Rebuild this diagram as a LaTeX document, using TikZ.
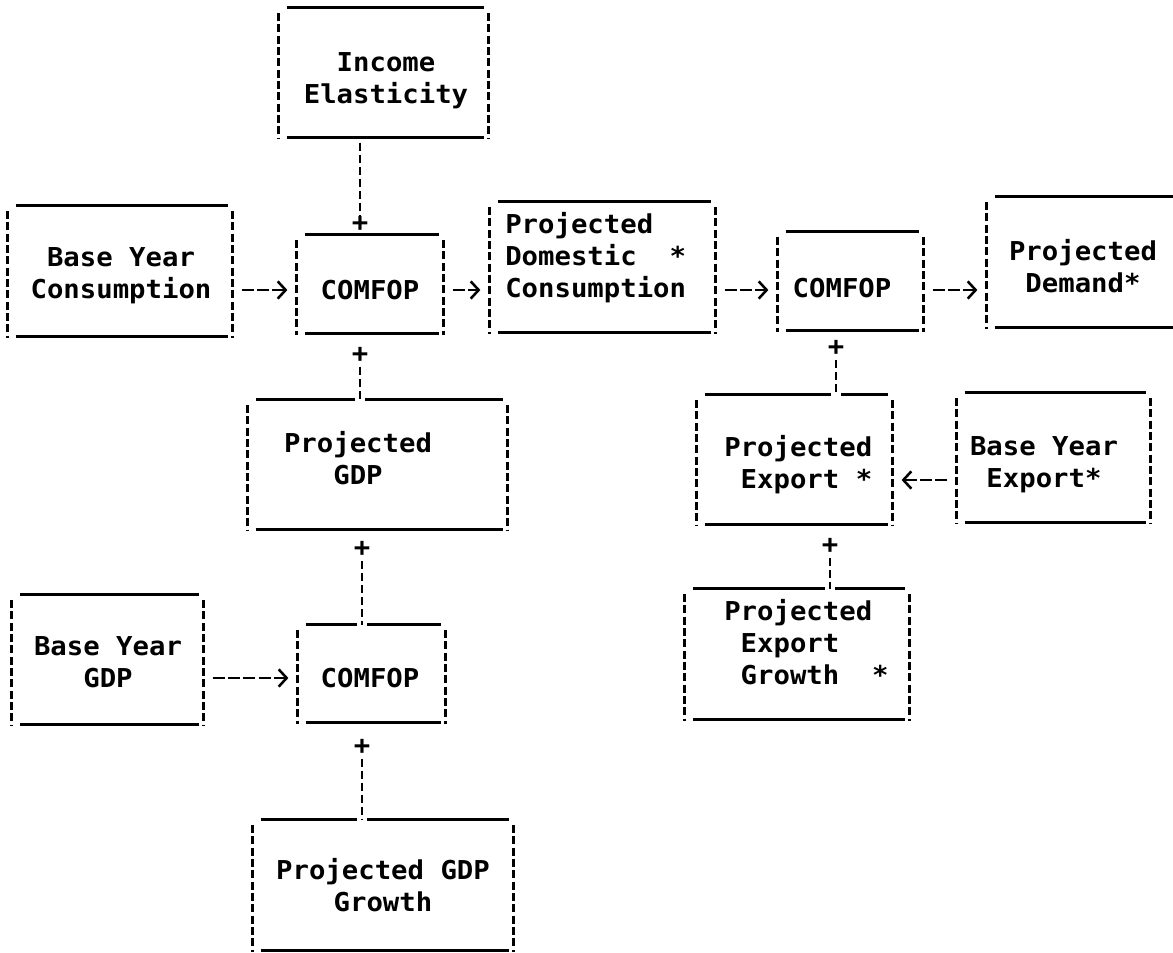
\documentclass[tikz,border=0pt]{standalone}
\usepackage{fontspec}
\newfontfamily\plotfont{DejaVu Sans Mono}[FakeStretch=1.05]
\usetikzlibrary{arrows.meta}
\tikzset{
  x=0.75pt, y=-0.75pt,
  box/.style n args={2}{draw=none, inner sep=0pt, rectangle,
    minimum width=#1*0.75pt, minimum height=#2*0.75pt},
  txt/.style={inner sep=0pt, font=\plotfont\bfseries\fontsize{19.5}{24}\selectfont, align=center},
  ltxt/.style={txt, align=left, anchor=west},
  plussign/.style={inner sep=0pt, font=\plotfont\bfseries\fontsize{19.5}{24}\selectfont},
  edgeline/.style={line width=2.2pt},
  sideline/.style={line width=2.2pt, dash pattern=on 6pt off 2.5pt},
  vconn/.style={line width=2.2pt, dash pattern=on 6pt off 3pt},
  gapline/.style={white, line width=3.5pt},
  harrow/.style={line width=1.9pt, dash pattern=on 9pt off 2.5pt,
    -{Straight Barb[length=6pt,width=13pt,line width=1.9pt]},
    shorten <=7pt, shorten >=7pt},
}
\begin{document}
\begin{tikzpicture}
\path[fill=white] (0,0) rectangle (1173,952);
\useasboundingbox (0,0) rectangle (1173,952);

% boxes
\node[box={209}{129}] (ie)   at (383.5,72.5) {};
\node[box={224}{130}] (byc)  at (120,271) {};
\node[box={146}{98}]  (c1)   at (370,284) {};
\node[box={225}{130}] (pdc)  at (602.5,267) {};
\node[box={145}{98}]  (c2)   at (850.5,281) {};
\node[box={213}{130}] (pd)   at (1093.5,262) {};
\node[box={259}{129}] (pgdp) at (377.5,464.5) {};
\node[box={195}{129}] (pe)   at (794.5,459.5) {};
\node[box={193}{129}] (bye)  at (1053.5,457.5) {};
\node[box={191}{129}] (byg)  at (107.5,659.5) {};
\node[box={147}{97}]  (c3)   at (371.5,673.5) {};
\node[box={224}{130}] (peg)  at (797,654) {};
\node[box={260}{130}] (pgg)  at (383,885) {};

\foreach \n in {ie,byc,c1,pdc,c2,pd,pgdp,pe,bye,byg,c3,peg,pgg}{
  \draw[edgeline] ([xshift=6pt]\n.north west) -- ([xshift=-3pt]\n.north east);
  \draw[edgeline] ([xshift=6pt]\n.south west) -- ([xshift=-3pt]\n.south east);
  \draw[sideline] ([yshift=-4pt]\n.north west) -- ([yshift=-1pt]\n.south west);
  \draw[sideline] ([yshift=-4pt]\n.north east) -- ([yshift=-1pt]\n.south east);
}

% texts
\node[txt] (ie-t) at (386,81) {Income\\Elasticity};
\node[txt] (byc-t) at (121,276) {Base Year\\Consumption};
\node[txt] (c1-t) at (370,290) {COMFOP};
\node[ltxt] (pdc-t) at (505,258) {Projected\\Domestic~~*\\Consumption};
\node[txt] (c2-t) at (842,288) {COMFOP};
\node[txt] (pd-t) at (1083,266) {Projected\\Demand*};
\node[txt] (pgdp-t) at (358,458) {Projected\\GDP};
\node[ltxt] (pe-t) at (724,465) {Projected\\\phantom{P}Export~*};
\node[txt] (bye-t) at (1044,465) {Base Year\\Export*};
\node[txt] (byg-t) at (108,662) {Base Year\\GDP};
\node[txt] (c3-t) at (370,678) {COMFOP};
\node[ltxt] (peg-t) at (724,642) {Projected\\\phantom{P}Export\\\phantom{P}Growth~~*};
\node[txt] (pgg-t) at (383,885) {Projected GDP\\Growth};

% plus signs
\node[plussign] (p1) at (360,224) {+};
\node[plussign] (p2) at (360,355) {+};
\node[plussign] (p3) at (362,549) {+};
\node[plussign] (p4) at (362,747) {+};
\node[plussign] (p5) at (836,348) {+};
\node[plussign] (p6) at (830,546) {+};

% small breaks in the top lines where connectors arrive
\draw[gapline] ([xshift=-4pt]pgdp.north -| p2) -- ([xshift=4pt]pgdp.north -| p2);
\draw[gapline] ([xshift=-4pt]c3.north -| p3) -- ([xshift=4pt]c3.north -| p3);
\draw[gapline] ([xshift=-4pt]pgg.north -| p4) -- ([xshift=4pt]pgg.north -| p4);
\draw[gapline] ([xshift=-4pt]pe.north -| p5) -- ([xshift=4pt]pe.north -| p5);
\draw[gapline] ([xshift=-4pt]peg.north -| p6) -- ([xshift=4pt]peg.north -| p6);

% vertical connectors
\draw[vconn] ([yshift=-4pt]ie.south -| p1) -- ([yshift=1pt]p1.north);
\draw[vconn] ([yshift=-3pt]p2.south) -- (pgdp.north -| p2);
\draw[vconn] ([yshift=-3pt]p3.south) -- (c3.north -| p3);
\draw[vconn] ([yshift=-3pt]p4.south) -- (pgg.north -| p4);
\draw[vconn] ([yshift=-3pt]p5.south) -- (pe.north -| p5);
\draw[vconn] ([yshift=-3pt]p6.south) -- (peg.north -| p6);

% horizontal connectors
\coordinate (r1) at (0,290);
\coordinate (r3) at (0,480);
\coordinate (r4) at (0,678);
\draw[harrow] (byc.east |- r1) -- (c1.west |- r1);
\draw[harrow] (c1.east |- r1) -- (pdc.west |- r1);
\draw[harrow] (pdc.east |- r1) -- (c2.west |- r1);
\draw[harrow] (c2.east |- r1) -- (pd.west |- r1);
\draw[harrow] (bye.west |- r3) -- (pe.east |- r3);
\draw[harrow] (byg.east |- r4) -- (c3.west |- r4);
\end{tikzpicture}
\end{document}
